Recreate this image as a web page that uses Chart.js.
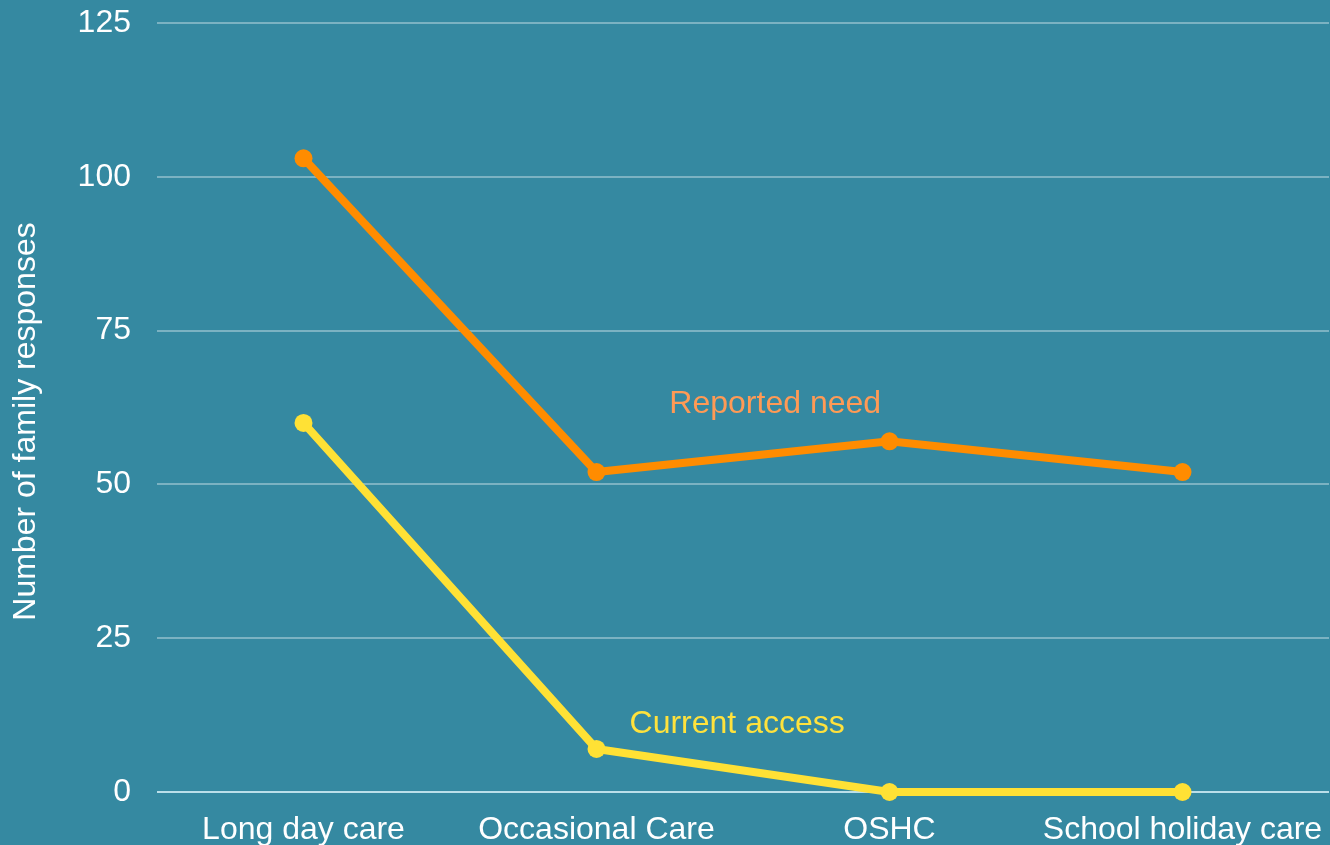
<!DOCTYPE html>
<html>
<head>
<meta charset="utf-8">
<script src="https://cdn.jsdelivr.net/npm/chart.js@4/dist/chart.umd.min.js"></script>
<style>
    html, body { margin: 0; padding: 0; background: #3589a1; overflow: hidden; }
    #wrap { width: 1330px; height: 845px; position: relative; }
</style>
</head>
<body>
<div id="wrap"><canvas id="chart"></canvas></div>
<script>
// 数据
const categories = ['Long day care', 'Occasional Care', 'OSHC', 'School holiday care'];
const reportedNeed = [103, 52, 57, 52];
const currentAccess = [60, 7, 0, 0];
const yTicks = [0, 25, 50, 75, 100, 125];
const yTitle = 'Number of family responses';

// 线旁的文字标签 (x 为类目序号, y 为数值)
const seriesLabels = [
    { text: 'Reported need', x: 1.61, y: 63.1, color: '#ff9a55' },
    { text: 'Current access', x: 1.48, y: 11.0, color: '#ffe23c' }
];

Chart.defaults.font.family = '"Liberation Sans", Arial, sans-serif';
Chart.defaults.color = '#ffffff';

const lineLabels = {
    id: 'lineLabels',
    afterDatasetsDraw(chart) {
        const { ctx, chartArea, scales: { x, y } } = chart;
        const x0 = x.getPixelForValue(0);
        const step = x.getPixelForValue(1) - x0;
        ctx.save();
        ctx.font = '32px "Liberation Sans", Arial, sans-serif';
        ctx.textAlign = 'center';
        ctx.textBaseline = 'middle';
        seriesLabels.forEach(l => {
            ctx.fillStyle = l.color;
            ctx.fillText(l.text, x0 + l.x * step, y.getPixelForValue(l.y));
        });
        // 纵轴标题, 略低于轴中心
        ctx.fillStyle = '#ffffff';
        ctx.translate(26, (chartArea.top + chartArea.bottom) / 2 + 14);
        ctx.rotate(-Math.PI / 2);
        ctx.fillText(yTitle, 0, 0);
        ctx.restore();
    }
};

const ctx = document.getElementById('chart').getContext('2d');
new Chart(ctx, {
    type: 'line',
    data: {
        labels: categories,
        datasets: [
            {
                label: 'Reported need',
                data: reportedNeed,
                borderColor: '#ff8c00',
                backgroundColor: '#ff8c00',
                borderWidth: 8,
                pointRadius: 9,
                pointBorderWidth: 0,
                tension: 0,
                clip: false
            },
            {
                label: 'Current access',
                data: currentAccess,
                borderColor: '#ffe135',
                backgroundColor: '#ffe135',
                borderWidth: 8,
                pointRadius: 9,
                pointBorderWidth: 0,
                tension: 0,
                clip: false
            }
        ]
    },
    plugins: [lineLabels],
    options: {
        responsive: true,
        maintainAspectRatio: false,
        animation: false,
        layout: { autoPadding: false, padding: { top: 23, right: 1, left: 0, bottom: 0 } },
        plugins: {
            legend: { display: false },
            tooltip: { enabled: false }
        },
        scales: {
            x: {
                offset: true,
                afterFit: axis => { axis.height = 53; axis.paddingLeft = 0; axis.paddingRight = 0; },
                grid: { display: false, drawTicks: false },
                border: { display: false },
                ticks: { font: { size: 32 }, padding: 19, color: '#ffffff', maxRotation: 0, autoSkip: false }
            },
            y: {
                min: 0,
                max: 125,
                afterBuildTicks: axis => { axis.ticks = yTicks.map(v => ({ value: v })); },
                afterFit: axis => { axis.width = 157; axis.paddingTop = 0; axis.paddingBottom = 0; },
                grid: {
                    drawTicks: false,
                    lineWidth: 2,
                    color: c => c.tick.value === 0 ? 'rgba(195,228,238,0.95)' : 'rgba(255,255,255,0.35)'
                },
                border: { display: false },
                ticks: { font: { size: 32 }, padding: 26, color: '#ffffff' }
            }
        }
    }
});
</script>
</body>
</html>
